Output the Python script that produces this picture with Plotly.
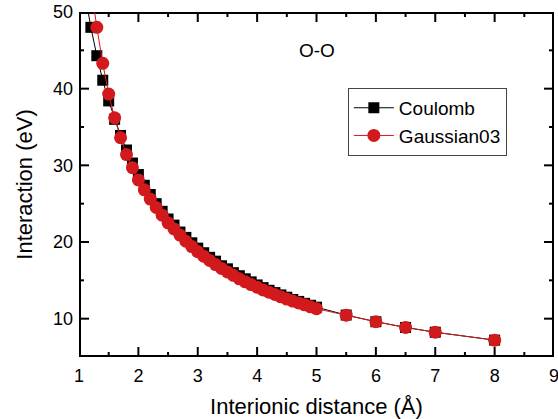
import plotly.graph_objects as go

# Interionic distance (Å)
r_coulomb = [1.1, 1.2, 1.3, 1.4, 1.5, 1.6, 1.7, 1.8, 1.9, 2.0, 2.1, 2.2, 2.3, 2.4, 2.5,
             2.6, 2.7, 2.8, 2.9, 3.0, 3.1, 3.2, 3.3, 3.4, 3.5, 3.6, 3.7, 3.8, 3.9, 4.0,
             4.1, 4.2, 4.3, 4.4, 4.5, 4.6, 4.7, 4.8, 4.9, 5.0, 5.5, 6.0, 6.5, 7.0, 8.0]
coulomb = [52.4, 48.0, 44.3, 41.1, 38.4, 36.0, 33.9, 32.0, 30.3, 28.8, 27.4, 26.2, 25.0,
           24.0, 23.0, 22.2, 21.3, 20.6, 19.9, 19.2, 18.6, 18.0, 17.5, 16.9, 16.5, 16.0,
           15.6, 15.2, 14.8, 14.4, 14.05, 13.7, 13.4, 13.1, 12.8, 12.5, 12.25, 12.0,
           11.75, 11.5, 10.47, 9.6, 8.86, 8.23, 7.2]

r_gauss = [1.2, 1.3, 1.4, 1.5, 1.6, 1.7, 1.8, 1.9, 2.0, 2.1, 2.2, 2.3, 2.4, 2.5, 2.6,
           2.7, 2.8, 2.9, 3.0, 3.1, 3.2, 3.3, 3.4, 3.5, 3.6, 3.7, 3.8, 3.9, 4.0, 4.1,
           4.2, 4.3, 4.4, 4.5, 4.6, 4.7, 4.8, 4.9, 5.0, 5.5, 6.0, 6.5, 7.0, 8.0]
gauss = [53.5, 48.0, 43.3, 39.3, 36.2, 33.6, 31.4, 29.7, 28.1, 26.8, 25.6, 24.5, 23.5,
         22.5, 21.7, 20.9, 20.1, 19.4, 18.75, 18.15, 17.6, 17.05, 16.55, 16.1, 15.65,
         15.2, 14.8, 14.45, 14.1, 13.75, 13.45, 13.15, 12.85, 12.55, 12.3, 12.05, 11.8,
         11.55, 11.3, 10.45, 9.6, 8.86, 8.23, 7.2]

x_range = [1, 9]
y_range = [5, 50]
x_major = [1, 2, 3, 4, 5, 6, 7, 8, 9]
x_minor = [1.5, 2.5, 3.5, 4.5, 5.5, 6.5, 7.5, 8.5]
y_major = [10, 20, 30, 40, 50]
y_minor = [5, 15, 25, 35, 45]

FONT = "Liberation Sans, Arial, sans-serif"
RED = "#d2191c"
LW = 2

W, H = 558, 419
ML, MR, MT, MB = 79, 4, 12, 62
plot_w = W - ML - MR
plot_h = H - MT - MB
ux = (x_range[1] - x_range[0]) / plot_w   # data units per pixel
uy = (y_range[1] - y_range[0]) / plot_h

fig = go.Figure()

# frame and inside ticks, each as its own two-point line trace
segments = []
xl, xr = x_range[0] + ux, x_range[1] - ux
yb, yt = y_range[0] + uy, y_range[1] - uy
segments += [([xl, xr], [yb, yb]), ([xl, xr], [yt, yt]), ([xl, xl], [yb, yt]), ([xr, xr], [yb, yt])]
for vals, ln in ((x_major, 10), (x_minor, 5)):
    for v in vals:
        segments.append(([v, v], [y_range[0], y_range[0] + ln * uy]))
        segments.append(([v, v], [y_range[1], y_range[1] - ln * uy]))
for vals, ln in ((y_major, 10), (y_minor, 5)):
    for v in vals:
        segments.append(([x_range[0], x_range[0] + ln * ux], [v, v]))
        segments.append(([x_range[1], x_range[1] - ln * ux], [v, v]))
for sx, sy in segments:
    fig.add_trace(go.Scatter(x=sx, y=sy, mode="lines", showlegend=False, hoverinfo="skip",
                             line=dict(color="black", width=LW), cliponaxis=False))

fig.add_trace(go.Scatter(
    x=r_coulomb, y=coulomb, mode="lines+markers", name="Coulomb",
    line=dict(color="black", width=1),
    marker=dict(symbol="square", size=11, color="black"),
))
fig.add_trace(go.Scatter(
    x=r_gauss, y=gauss, mode="lines+markers", name="Gaussian03",
    line=dict(color=RED, width=1),
    marker=dict(symbol="circle", size=13, color=RED),
))

fig.update_layout(
    xaxis=dict(
        range=x_range, tickmode="array", tickvals=x_major,
        showline=False, ticks="", showgrid=False, zeroline=False,
        ticklabelstandoff=6, ticklabeloverflow="allow",
        tickfont=dict(family=FONT, size=18, color="black"),
        title=dict(text="Interionic distance (Å)", font=dict(family=FONT, size=22, color="black"), standoff=14),
    ),
    yaxis=dict(
        range=y_range, tickmode="array", tickvals=y_major,
        showline=False, ticks="", showgrid=False, zeroline=False,
        ticklabelstandoff=5, ticklabeloverflow="allow",
        tickfont=dict(family=FONT, size=18, color="black"),
        title=dict(text="Interaction (eV)", font=dict(family=FONT, size=22, color="black"), standoff=14),
    ),
)

fig.add_annotation(x=5, y=45, text="O-O", showarrow=False,
                   font=dict(family=FONT, size=19, color="black"))

fig.update_layout(
    width=W, height=H,
    margin=dict(l=ML, r=MR, t=MT, b=MB, autoexpand=False),
    paper_bgcolor="white", plot_bgcolor="white",
    showlegend=True,
    legend=dict(x=0.566, y=0.78, xanchor="left", yanchor="top",
                bordercolor="#444", borderwidth=1, bgcolor="white",
                font=dict(family=FONT, size=19, color="black"),
                tracegroupgap=0, itemwidth=40),
)

fig.write_html("out.html")
